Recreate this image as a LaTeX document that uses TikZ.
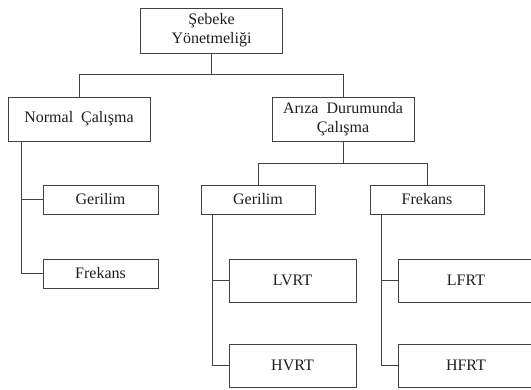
\documentclass[tikz,border=0pt]{standalone}
\usepackage{fontspec}
\setmainfont{Liberation Serif}
\usepackage{tikz}
\usetikzlibrary{positioning, calc}
\usepackage{xcolor}
\definecolor{linegray}{RGB}{64,64,64}
\definecolor{textgray}{RGB}{30,30,30}

\tikzset{
  box/.style={draw=linegray, line width=0.9pt, inner sep=0pt, align=center,
    text=textgray, font=\fontsize{16}{19}\selectfont},
  bigbox/.style={box, minimum width=142pt, minimum height=44pt},
  smallbox/.style={box, minimum width=114pt, minimum height=29pt},
  leafbox/.style={box, minimum width=127pt, minimum height=43pt},
  wire/.style={draw=linegray, line width=0.9pt}
}

\begin{document}
\begin{tikzpicture}[x=1pt, y=-1pt]
  \clip (0,0) rectangle (531,389);
  % top level
  \node[bigbox, minimum height=45pt] (grid) at (211.5,30.5) {Şebeke\\Yönetmeliği};
  \node[bigbox] (normal) at (79,119) {Normal\ \ Çalışma};
  \node[bigbox] (fault) at (343,119) {Arıza\ \ Durumunda\\Çalışma};
  % normal operation
  \node[smallbox, minimum width=115pt] (nvolt) at (100.5,199.5) {Gerilim};
  \node[smallbox, minimum width=115pt] (nfreq) at (100.5,273.5) {Frekans};
  % fault operation
  \node[smallbox] (fvolt) at (258,199.5) {Gerilim};
  \node[smallbox] (ffreq) at (427,199.5) {Frekans};
  \node[leafbox] (lvrt) at (292.5,280.5) {LVRT};
  \node[leafbox] (hvrt) at (292.5,365.5) {HVRT};
  \node[leafbox, minimum width=136pt] (lfrt) at (466,280.5) {LFRT};
  \node[leafbox, minimum width=136pt] (hfrt) at (466,365.5) {HFRT};
  % connectors
  \coordinate (j1) at (211.5,74);
  \coordinate (j2) at (343,163);
  \draw[wire] (grid.south) -- (j1);
  \draw[wire] (j1) -| (normal.north);
  \draw[wire] (j1) -| (fault.north);
  \draw[wire] (fault.south) -- (j2);
  \draw[wire] (j2) -| (fvolt.north);
  \draw[wire] (j2) -| (ffreq.north);
  \coordinate (nbus) at ($(normal.south west)+(14,0)$);
  \coordinate (vbus) at ($(fvolt.south west)+(12,0)$);
  \coordinate (fbus) at ($(ffreq.south west)+(12,0)$);
  \draw[wire] (nbus) |- (nfreq.west);
  \draw[wire] (nbus |- nvolt.west) -- (nvolt.west);
  \draw[wire] (vbus) |- (hvrt.west);
  \draw[wire] (vbus |- lvrt.west) -- (lvrt.west);
  \draw[wire] (fbus) |- (hfrt.west);
  \draw[wire] (fbus |- lfrt.west) -- (lfrt.west);
\end{tikzpicture}
\end{document}
